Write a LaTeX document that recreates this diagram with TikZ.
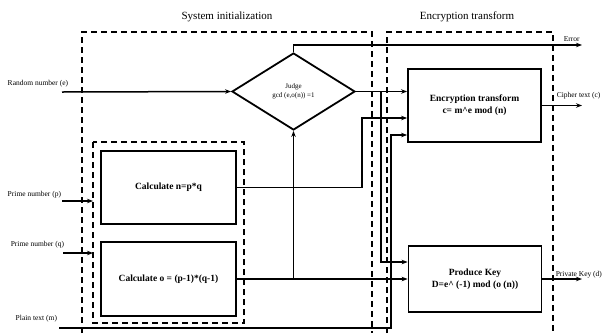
\documentclass[tikz,border=0pt]{standalone}
\usepackage{fontspec}
\setmainfont{Liberation Serif}
\usepackage{tikz}
\usetikzlibrary{arrows.meta}
\usetikzlibrary{shapes.geometric}

\begin{document}
\begin{tikzpicture}[x=1pt,y=-1pt,line width=1.5pt,
    >={Stealth[length=6pt,width=4.5pt]},
    blk/.style={draw,line width=1.8pt,align=center,
      font=\fontsize{9.5}{12}\selectfont\bfseries},
    dashbox/.style={dashed,line width=1.6pt,dash pattern=on 6pt off 4pt},
    lbl/.style={font=\fontsize{7.5}{8}\selectfont,inner sep=0pt}]
        \useasboundingbox (0,0) rectangle (611,333);

        %------------------
        % 破線の枠
        %------------------
        \draw[dashbox] (82,333) -- (82,32) -- (372,32) -- (372,333);
        \draw[dashbox] (387,333) -- (387,32) -- (553,32) -- (553,333);
        \draw[dashbox] (93,142) rectangle (244,323);
        \coordinate (inbox) at (93,142);

        \node[font=\fontsize{11}{12}\selectfont] (tinit) at (227,17) {System initialization};
        \node[font=\fontsize{11}{12}\selectfont] (tenc) at (467,17) {Encryption transform};

        %------------------
        % ブロック
        %------------------
        \node[draw,diamond,line width=1.8pt,minimum width=123pt,minimum height=77pt,
          inner sep=0pt,align=center,font=\fontsize{7}{9}\selectfont]
          (judge) at (293.5,91.5) {Judge\\gcd (e,o(n)) =1};
        \node[blk,minimum width=133pt,minimum height=73pt] (enc) at (474.5,105.5)
          {Encryption transform\\c= m\^{}e mod (n)};
        \node[blk,minimum width=133pt,minimum height=66pt] (key) at (475,279)
          {Produce Key\\D=e\^{} (-1) mod (o (n))};
        \node[blk,minimum width=135pt,minimum height=73pt] (calcn) at (168.5,187.5)
          {Calculate n=p*q};
        \node[blk,minimum width=135pt,minimum height=74pt] (calco) at (168.5,279)
          {Calculate o = (p-1)*(q-1)};

        %------------------
        % 入出力
        %------------------
        \coordinate (rnd) at (62,92);
        \coordinate (pin) at (62,201);
        \coordinate (qin) at (63,253);
        \coordinate (mtxt) at (59,328);
        \coordinate (errout) at (582,45);
        \coordinate (cout) at (582,105.5);
        \coordinate (dout) at (582,279);

        \node[lbl,anchor=base west] (lrnd) at (7,85) {Random number (e)};
        \node[lbl,anchor=base west] (lp) at (7,196) {Prime number (p)};
        \node[lbl,anchor=base west] (lq) at (10,246) {Prime number (q)};
        \node[lbl,anchor=base west] (lm) at (15,320) {Plain text (m)};
        \node[lbl,anchor=base west] (lerr) at (563,41) {Error};
        \node[lbl,anchor=base west] (lc) at (556,97) {Cipher text (c)};
        \node[lbl,anchor=base west] (ld) at (555,276) {Private Key (d)};

        %------------------
        % 接続
        %------------------
        \draw[->] (rnd) -- (judge.west);
        \draw[->] (judge.north) |- (errout);
        \draw[->] (judge.east) -- (enc.west |- judge.east);
        \draw[->] ([xshift=25pt]judge.east) |- ([yshift=17pt]key.west);
        \draw[->] (calcn.east) -| ([xshift=-45pt,yshift=-12.5pt]enc.west)
          -- ([yshift=-12.5pt]enc.west);
        \draw[->] (mtxt) -| ([xshift=-16pt,yshift=-29.5pt]enc.west)
          -- ([yshift=-29.5pt]enc.west);
        \draw[->] (calco.east) -- (key.west);
        \draw[->] (judge.south |- calco.east) -- (judge.south);
        \draw[->] (pin) -- (pin -| inbox);
        \draw[->] (qin) -- (qin -| inbox);
        \draw[->] (enc.east) -- (cout);
        \draw[->] (key.east) -- (dout);
      \end{tikzpicture}
\end{document}
